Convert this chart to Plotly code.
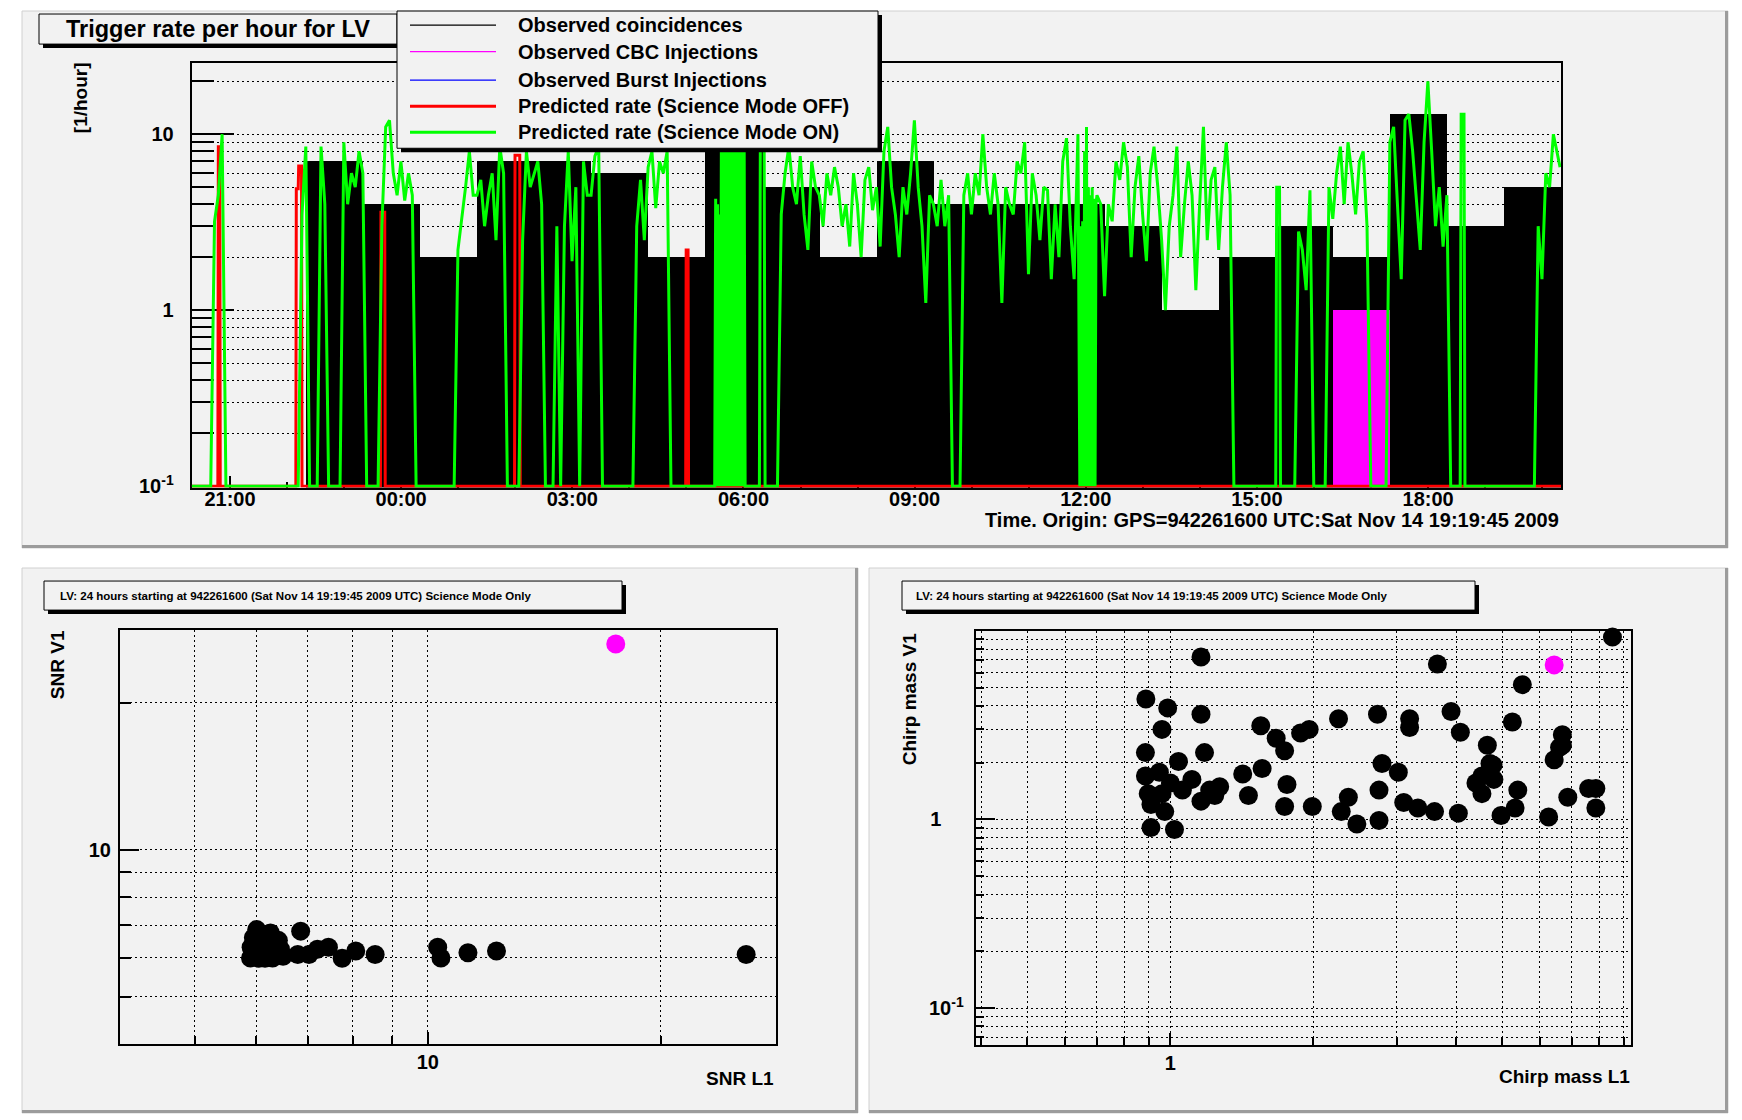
import plotly.graph_objects as go
from datetime import datetime, timedelta

W, H = 1742, 1120          # target picture size (layout coordinates below are in this space)
H_PAGE = 1132              # rendered height; the photograph squeezes it back to 1120
FONT = "Liberation Sans"
F = 0.1  # zero rate -> drawn on the axis floor

# ---------------- top panel data ----------------
T0 = datetime(2009, 11, 14, 20, 19, 45)   # axis start (local display)
hour_bins = list(range(24))
observed_coinc = [0, 0, 7, 4, 2, 7, 7, 6, 2, 11, 5, 2, 7, 4, 4, 4, 3, 1, 2, 3, 2, 13, 3, 5]
observed_cbc   = [0, 0, 0, 0, 0, 0, 0, 0, 0, 0, 0, 0, 0, 0, 0, 0, 0, 0, 0, 0, 1, 0, 0, 0]
observed_burst = [0, 0, 0, 0, 0, 0, 0, 0, 0, 0, 0, 0, 0, 0, 0, 0, 0, 0, 0, 0, 0, 0, 0, 0]

# predicted rate, science mode ON: one sample every 4 minutes (15 per hour)
green_step_min = 4
green_rate = [
    F, F, F, F, F, F, 3.2, 4.5, 10, F, F, F, F, F, F,
    F, F, F, F, F, F, F, F, F, F, F, F, F, F, 3.5,
    8.5, F, F, F, 8.5, 4, F, F, F, F, 9, 4, 6, 5, 8,
    6, F, F, F, F, 3, 11, 12, 6, 4.5, 7, 4.2, 6, 4.5, F,
    F, F, F, F, F, F, F, F, F, F, 2.2, 3.2, 5, 8, 4.5,
    4.5, 5.5, 3, 4.5, 6, 2.5, 8.5, 6, F, F, F, F, 2.5, 8, 5,
    6, 7, 4, F, F, F, 3, F, 3, 8, 1.9, 5, F, 7, 4.5,
    4.5, 7.5, 8.5, F, F, F, F, F, F, F, F, F, 3, 5.5, 2.5,
    6.5, 8, 3.8, 7, 6, 8, F, F, F, F, F, F, F, F, F,
    F, F, F, F, F, F, F, F, F, F, F, F, F, F, F,
    F, F, F, F, F, 3.5, 6, 8.5, 5, 4, 7.5, 3.5, 2.2, 7, 5,
    4.5, 3, 6, 4.5, 6.5, 5, 3, 4, 2.3, 6, 4, 2, 5.5, 6.5, 3.7,
    5, 2.3, 8, 11, 5, 3.5, 2, 5, 3.5, 6, 12, 5, 3, 1.1, 4.5,
    4, 3, 5.5, 3, 4.5, F, F, F, 4.5, 6, 3.5, 6, 4.5, 10, 5,
    3.5, 6, 4, 1.1, 5, 4, 3.5, 7, 6, 9, 1.6, 6, 4.5, 2.5, 5,
    4.8, 1.5, 4, 2, 7, 9.5, 3, 1.5, 10, F, F, F, F, 4.5, 4,
    1.2, 4, 3.2, 7, 5.5, 9, 6.5, 2, 5, 7.5, 3.5, 1.9, 6, 8.5, 5,
    2.5, 1.0, 3, 4.5, 8.5, 2, 4, 7, 4.5, 1.3, 4, 11, 2.5, 5.5, 6.5,
    2.2, 5, 9, 4.5, F, F, F, F, F, F, F, F, F, F, F,
    F, F, F, F, F, F, 2.8, 2.2, 1.3, 4.8, F, F, F, F, 5,
    3.3, 6, 8.5, 4, 9, 6, 3.5, 7, 8, 3, F, F, F, F, F,
    9, 11, 4, 1.5, 12, 13, 8, 4, 2.2, 9, 20, 8, 3, 5, 2.3,
    4.5, F, F, F, F, F, F, F, F, F, F, F, F, F, F,
    F, F, F, F, F, F, F, F, F, 3, 1.5, 6, 5, 10, 8,
]
# short, fast-toggling stretches read at 1-minute resolution (start minute, rates)
green_fast_0550 = [F, 4.3, F, 4, F, 3.5, F, 8.5, F, 9, F, 8, F, 9, F, 8.5, F,
                   9, F, 8.8, F, 9, F, 8.5, F, 9, F, 8.8, F, 9, F, 8.5, F]
green_fast_0597 = [F, 9.5, 9.5, 9.5, 9.5, 9.5, F]
green_fast_0934 = [F, 3, F, 3.2, F, 8, F, 11, F, 5, F, 4.5, F, 5, F, 4.3, F, 4]
green_fast_1140 = [F, 5, 5, 5, 5, F]
green_fast_1334 = [F, 13, 13, 13, 13, F]
green_fast_1438 = [7, 6.5]
green_fast = [(550, green_fast_0550), (597, green_fast_0597), (934, green_fast_0934),
              (1140, green_fast_1140), (1334, green_fast_1334), (1438, green_fast_1438)]

# predicted rate, science mode OFF (minutes from axis start, rate)
red_min  = [0, 27.5, 28, 29.5, 30, 109.5, 110, 112, 112.5, 115.5, 116, 198.5, 199, 203, 203.5,
            339.5, 340, 345, 345.5, 519.5, 520, 522, 522.5, 1440]
red_rate = [F, F, 8.5, 8.5, F, F, 4.9, 4.9, 6.6, 6.6, F, F, 3.6, 3.6, F,
            F, 7.6, 7.6, F, F, 2.2, 2.2, F, F]

# ---------------- bottom-left: SNR ----------------
snr_l1 = [5.91, 6.01, 6.05, 6.01, 6.16, 6.26, 6.36, 6.41, 6.05, 6.26,
          6.85, 6.79, 7.02, 7.20, 7.44, 7.75, 8.07, 8.55, 10.3, 10.4,
          11.27, 12.27, 25.8, 5.90, 5.95, 6.10, 6.20, 6.30, 6.45, 6.50]
snr_v1 = [6.31, 6.86, 6.52, 6.10, 5.99, 6.31, 6.10, 6.52, 5.99, 6.75,
          6.81, 6.10, 6.10, 6.25, 6.31, 5.99, 6.20, 6.10, 6.31, 6.00,
          6.15, 6.20, 6.10, 6.00, 6.60, 6.70, 6.40, 6.00, 6.25, 6.05]
inj_snr_l1 = [17.5]
inj_snr_v1 = [26.4]

# ---------------- bottom-right: chirp mass ----------------
mc_l1 = [8.53, 1.16, 3.65, 5.51, 0.888, 0.987, 1.16, 2.26, 2.73, 3.19,
         3.19, 3.90, 4.08, 5.25, 1.55, 0.96, 1.67, 1.88, 1.96, 1.74,
         1.18, 4.65, 6.69, 6.69, 6.43, 2.79, 3.02, 4.71, 0.886, 0.886,
         0.948, 1.04, 1.11, 1.21, 1.42, 1.56, 1.76, 1.46, 1.74, 1.99,
         2.29, 2.47, 2.37, 2.75, 2.75, 3.10, 3.32, 3.60, 4.04, 4.40,
         4.53, 4.78, 4.97, 5.32, 5.39, 6.26, 6.87, 7.87, 7.87, 0.91,
         1.02, 0.91, 0.96, 1.06, 0.898, 0.973, 1.0, 1.24, 1.16, 1.27,
         6.6, 7.6, 4.8, 4.53]
mc_v1 = [9.25, 7.25, 6.67, 5.18, 4.35, 3.90, 3.61, 3.42, 3.61, 3.42,
         3.07, 3.73, 2.90, 3.28, 3.14, 3.00, 2.69, 2.87, 3.00, 2.31,
         2.26, 2.47, 2.81, 2.47, 2.07, 1.98, 1.78, 1.98, 2.26, 1.70,
         1.78, 2.03, 1.63, 1.43, 1.74, 1.86, 1.53, 1.34, 1.17, 1.17,
         1.10, 0.945, 1.31, 1.43, 0.987, 1.23, 1.15, 1.10, 1.08, 1.56,
         1.37, 1.94, 1.05, 1.15, 1.43, 1.03, 1.31, 1.46, 1.15, 0.905,
         0.885, 1.20, 1.37, 1.43, 1.37, 1.10, 1.56, 1.34, 1.25, 1.49,
         2.41, 1.46, 1.63, 1.70]
inj_mc_l1 = [6.43]
inj_mc_v1 = [6.59]

PAD_TITLE = "LV: 24 hours starting at 942261600 (Sat Nov 14 19:19:45 2009 UTC) Science Mode Only"

# ---------------- helpers ----------------
def px(x):
    return x / W


def py(y):
    return 1 - y / H


def tmin(m):
    return T0 + timedelta(minutes=m)


def bold(size):
    return dict(family=FONT, size=size, color="black", weight="bold")


shapes, annotations = [], []


def rect(x0, y0, x1, y1, fill, line="rgba(0,0,0,0)", lw=0, layer="above"):
    shapes.append(dict(type="rect", xref="paper", yref="paper", x0=px(x0), x1=px(x1),
                       y0=py(y1), y1=py(y0), fillcolor=fill,
                       line=dict(color=line, width=lw), layer=layer))


def hline(x0, x1, y, color, lw, layer="above"):
    shapes.append(dict(type="line", xref="paper", yref="paper", x0=px(x0), x1=px(x1),
                       y0=py(y), y1=py(y), line=dict(color=color, width=lw), layer=layer))


def vline(x, y0, y1, color, lw, layer="above"):
    shapes.append(dict(type="line", xref="paper", yref="paper", x0=px(x), x1=px(x),
                       y0=py(y0), y1=py(y1), line=dict(color=color, width=lw), layer=layer))


def text(x, y, s, size, xanchor="center", angle=0):
    annotations.append(dict(x=px(x), y=py(y), xref="paper", yref="paper", text=s,
                            showarrow=False, xanchor=xanchor, yanchor="middle",
                            textangle=angle, font=bold(size)))


def pad(x0, y0, x1, y1):
    rect(x0, y0, x1, y1, "#f2f2f2", "#d0d0d0", 1, layer="below")
    hline(x0, x1, y1 - 1.5, "#9c9c9c", 3, layer="below")
    vline(x1 - 1.5, y0, y1, "#9c9c9c", 3, layer="below")


def pave(x0, y0, x1, y1):
    rect(x0 + 4, y0 + 4, x1 + 4, y1 + 4, "black")
    rect(x0, y0, x1, y1, "#f2f2f2", "black", 1)


# ---------------- build series ----------------
fast_windows = [(s, s + len(v) - 1) for s, v in green_fast]
g_pts = []
for i, v in enumerate(green_rate):
    m = i * green_step_min
    if any(a <= m <= b for a, b in fast_windows):
        continue
    g_pts.append((m, v))
for s, vals in green_fast:
    for j, v in enumerate(vals):
        g_pts.append((s + j, v))
g_pts.sort()
green_x = [tmin(m) for m, _ in g_pts]
green_y = [v for _, v in g_pts]

bin_x = [T0 + timedelta(hours=k + 0.5) for k in hour_bins]
HOUR_MS = 3600 * 1000

fig = go.Figure()
fig.add_trace(go.Bar(x=bin_x, y=[v if v > 0 else None for v in observed_coinc],
                     width=[HOUR_MS] * 24, marker=dict(color="black", line=dict(width=0)),
                     name="Observed coincidences", xaxis="x", yaxis="y"))
fig.add_trace(go.Bar(x=bin_x, y=[v if v > 0 else None for v in observed_cbc],
                     width=[HOUR_MS] * 24, marker=dict(color="#ff00ff", line=dict(width=0)),
                     name="Observed CBC Injections", xaxis="x", yaxis="y"))
fig.add_trace(go.Bar(x=bin_x, y=[v if v > 0 else None for v in observed_burst],
                     width=[HOUR_MS] * 24, marker=dict(color="#0000ff", line=dict(width=0)),
                     name="Observed Burst Injections", xaxis="x", yaxis="y"))
fig.add_trace(go.Scatter(x=[tmin(m) for m in red_min], y=red_rate, mode="lines",
                         line=dict(color="#ff0000", width=3),
                         name="Predicted rate (Science Mode OFF)", xaxis="x", yaxis="y"))
fig.add_trace(go.Scatter(x=green_x, y=green_y, mode="lines",
                         line=dict(color="#00ff00", width=3),
                         name="Predicted rate (Science Mode ON)", xaxis="x", yaxis="y"))

fig.add_trace(go.Scatter(x=snr_l1, y=snr_v1, mode="markers", cliponaxis=False,
                         marker=dict(color="black", size=19, line=dict(width=0)),
                         xaxis="x2", yaxis="y2", name="coincidences"))
fig.add_trace(go.Scatter(x=inj_snr_l1, y=inj_snr_v1, mode="markers", cliponaxis=False,
                         marker=dict(color="#ff00ff", size=19, line=dict(width=0)),
                         xaxis="x2", yaxis="y2", name="CBC injection"))
fig.add_trace(go.Scatter(x=mc_l1, y=mc_v1, mode="markers", cliponaxis=False,
                         marker=dict(color="black", size=19, line=dict(width=0)),
                         xaxis="x3", yaxis="y3", name="coincidences"))
fig.add_trace(go.Scatter(x=inj_mc_l1, y=inj_mc_v1, mode="markers", cliponaxis=False,
                         marker=dict(color="#ff00ff", size=19, line=dict(width=0)),
                         xaxis="x3", yaxis="y3", name="CBC injection"))

# ---------------- pads, boxes, texts ----------------
pad(22, 11, 1728, 547)
pad(22, 567, 858, 1111)
pad(869, 567, 1728, 1111)

pave(39, 14, 397, 44)
text(218, 29, "Trigger rate per hour for LV", 23.5)

pave(397, 11, 878, 148)
legend_rows = [("Observed coincidences", "black", 1.2, 25),
               ("Observed CBC Injections", "#ff00ff", 1.2, 51.5),
               ("Observed Burst Injections", "#0000ff", 1.2, 80),
               ("Predicted rate (Science Mode OFF)", "#ff0000", 3, 106),
               ("Predicted rate (Science Mode ON)", "#00ff00", 3, 132)]
for label, col, lw, yy in legend_rows:
    hline(410, 496, yy, col, lw)
    text(516, yy, label, 20, xanchor="left")

text(80, 98, "[1/hour]", 19, angle=-90)
text(1561, 519, "Time. Origin: GPS=942261600 UTC:Sat Nov 14 19:19:45 2009", 20, xanchor="right")

pave(44, 580, 622, 609)
text(58, 595, PAD_TITLE, 11.5, xanchor="left")
pave(902, 580, 1475, 609)
text(914, 595, PAD_TITLE, 11.5, xanchor="left")

text(57, 664, "SNR V1", 19, angle=-90)
text(776, 1077, "SNR L1", 19, xanchor="right")
text(909, 698, "Chirp mass V1", 19, angle=-90)
text(1632, 1075, "Chirp mass L1", 19, xanchor="right")

# ---------------- axes ----------------
grid = dict(showgrid=True, gridcolor="black", gridwidth=1, griddash="2px,3px")
frame = dict(showline=True, mirror=True, linecolor="black", linewidth=2, zeroline=False)

top_minor_y = [0.2, 0.3, 0.4, 0.5, 0.6, 0.7, 0.8, 0.9, 2, 3, 4, 5, 6, 7, 8, 9, 20]
snr_minor = [5, 6, 7, 8, 9, 20]
mc_minor_x = [0.4, 0.5, 0.6, 0.7, 0.8, 0.9, 2, 3, 4, 5, 6, 7, 8, 9]
mc_minor_y = [0.07, 0.08, 0.09, 0.2, 0.3, 0.4, 0.5, 0.6, 0.7, 0.8, 0.9, 2, 3, 4, 5, 6, 7, 8, 9]
NB = "\u00a0"

fig.update_layout(
    width=W, height=H_PAGE, margin=dict(l=0, r=0, t=0, b=0),
    paper_bgcolor="white", plot_bgcolor="#f2f2f2",
    barmode="overlay", bargap=0, showlegend=False,
    shapes=shapes, annotations=annotations,
    xaxis=dict(domain=[px(191.7), px(1561)], anchor="y", type="date",
               range=[T0, T0 + timedelta(hours=24)],
               tickformat="%H:%M", tick0="2009-11-14 21:00:00", dtick=3 * HOUR_MS,
               ticks="inside", ticklen=12, tickwidth=1.5, tickcolor="black",
               minor=dict(tick0="2009-11-14 21:00:00", dtick=HOUR_MS, ticks="inside",
                          ticklen=6, tickcolor="black", showgrid=False),
               showgrid=False, tickfont=bold(20), ticklabelstandoff=-8,
               layer="below traces", **frame),
    yaxis=dict(domain=[py(486.7), py(63)], anchor="x", type="log", range=[-1.008, 1.404],
               tickvals=[0.1, 1, 10], ticktext=["10<sup>-1</sup>", "1", "10"],
               ticks="inside", ticklen=42, tickwidth=2, tickcolor="black",
               minor=dict(tickvals=top_minor_y, ticks="inside", ticklen=22, tickwidth=1.5,
                          tickcolor="black", **grid),
               tickfont=bold(20), ticklabelstandoff=12, layer="below traces",
               **grid, **frame),
    xaxis2=dict(domain=[px(120), px(776)], anchor="y2", type="log",
                range=[0.6021, 1.4502], tickvals=[10], ticktext=["10"],
                ticks="inside", ticklen=12, tickwidth=1.5, tickcolor="black",
                minor=dict(tickvals=snr_minor, ticks="inside", ticklen=8,
                           tickcolor="black", **grid),
                tickfont=bold(20), ticklabelstandoff=-1, **grid, **frame),
    yaxis2=dict(domain=[py(1042), py(629)], anchor="x2", type="log",
                range=[0.6021, 1.4502], tickvals=[10], ticktext=["10"],
                ticks="inside", ticklen=19, tickwidth=2, tickcolor="black",
                minor=dict(tickvals=snr_minor, ticks="inside", ticklen=11,
                           tickcolor="black", **grid),
                tickfont=bold(20), ticklabelstandoff=3, **grid, **frame),
    xaxis3=dict(domain=[px(975.7), px(1631)], anchor="y3", type="log",
                range=[-0.41, 0.97], tickvals=[1], ticktext=["1"],
                ticks="inside", ticklen=12, tickwidth=1.5, tickcolor="black",
                minor=dict(tickvals=mc_minor_x, ticks="inside", ticklen=8,
                           tickcolor="black", **grid),
                tickfont=bold(20), ticklabelstandoff=-1, **grid, **frame),
    yaxis3=dict(domain=[py(1042.9), py(629.6)], anchor="x3", type="log",
                range=[-1.194, 1.0], tickvals=[0.1, 1],
                ticktext=["10<sup>-1</sup>", "1" + NB * 4],
                ticks="inside", ticklen=19, tickwidth=2, tickcolor="black",
                minor=dict(tickvals=mc_minor_y, ticks="inside", ticklen=8,
                           tickcolor="black", **grid),
                tickfont=bold(20), ticklabelstandoff=6, **grid, **frame),
)

fig.write_html("out.html", config={"displayModeBar": False},
               post_script="document.body.style.margin='0px';")
